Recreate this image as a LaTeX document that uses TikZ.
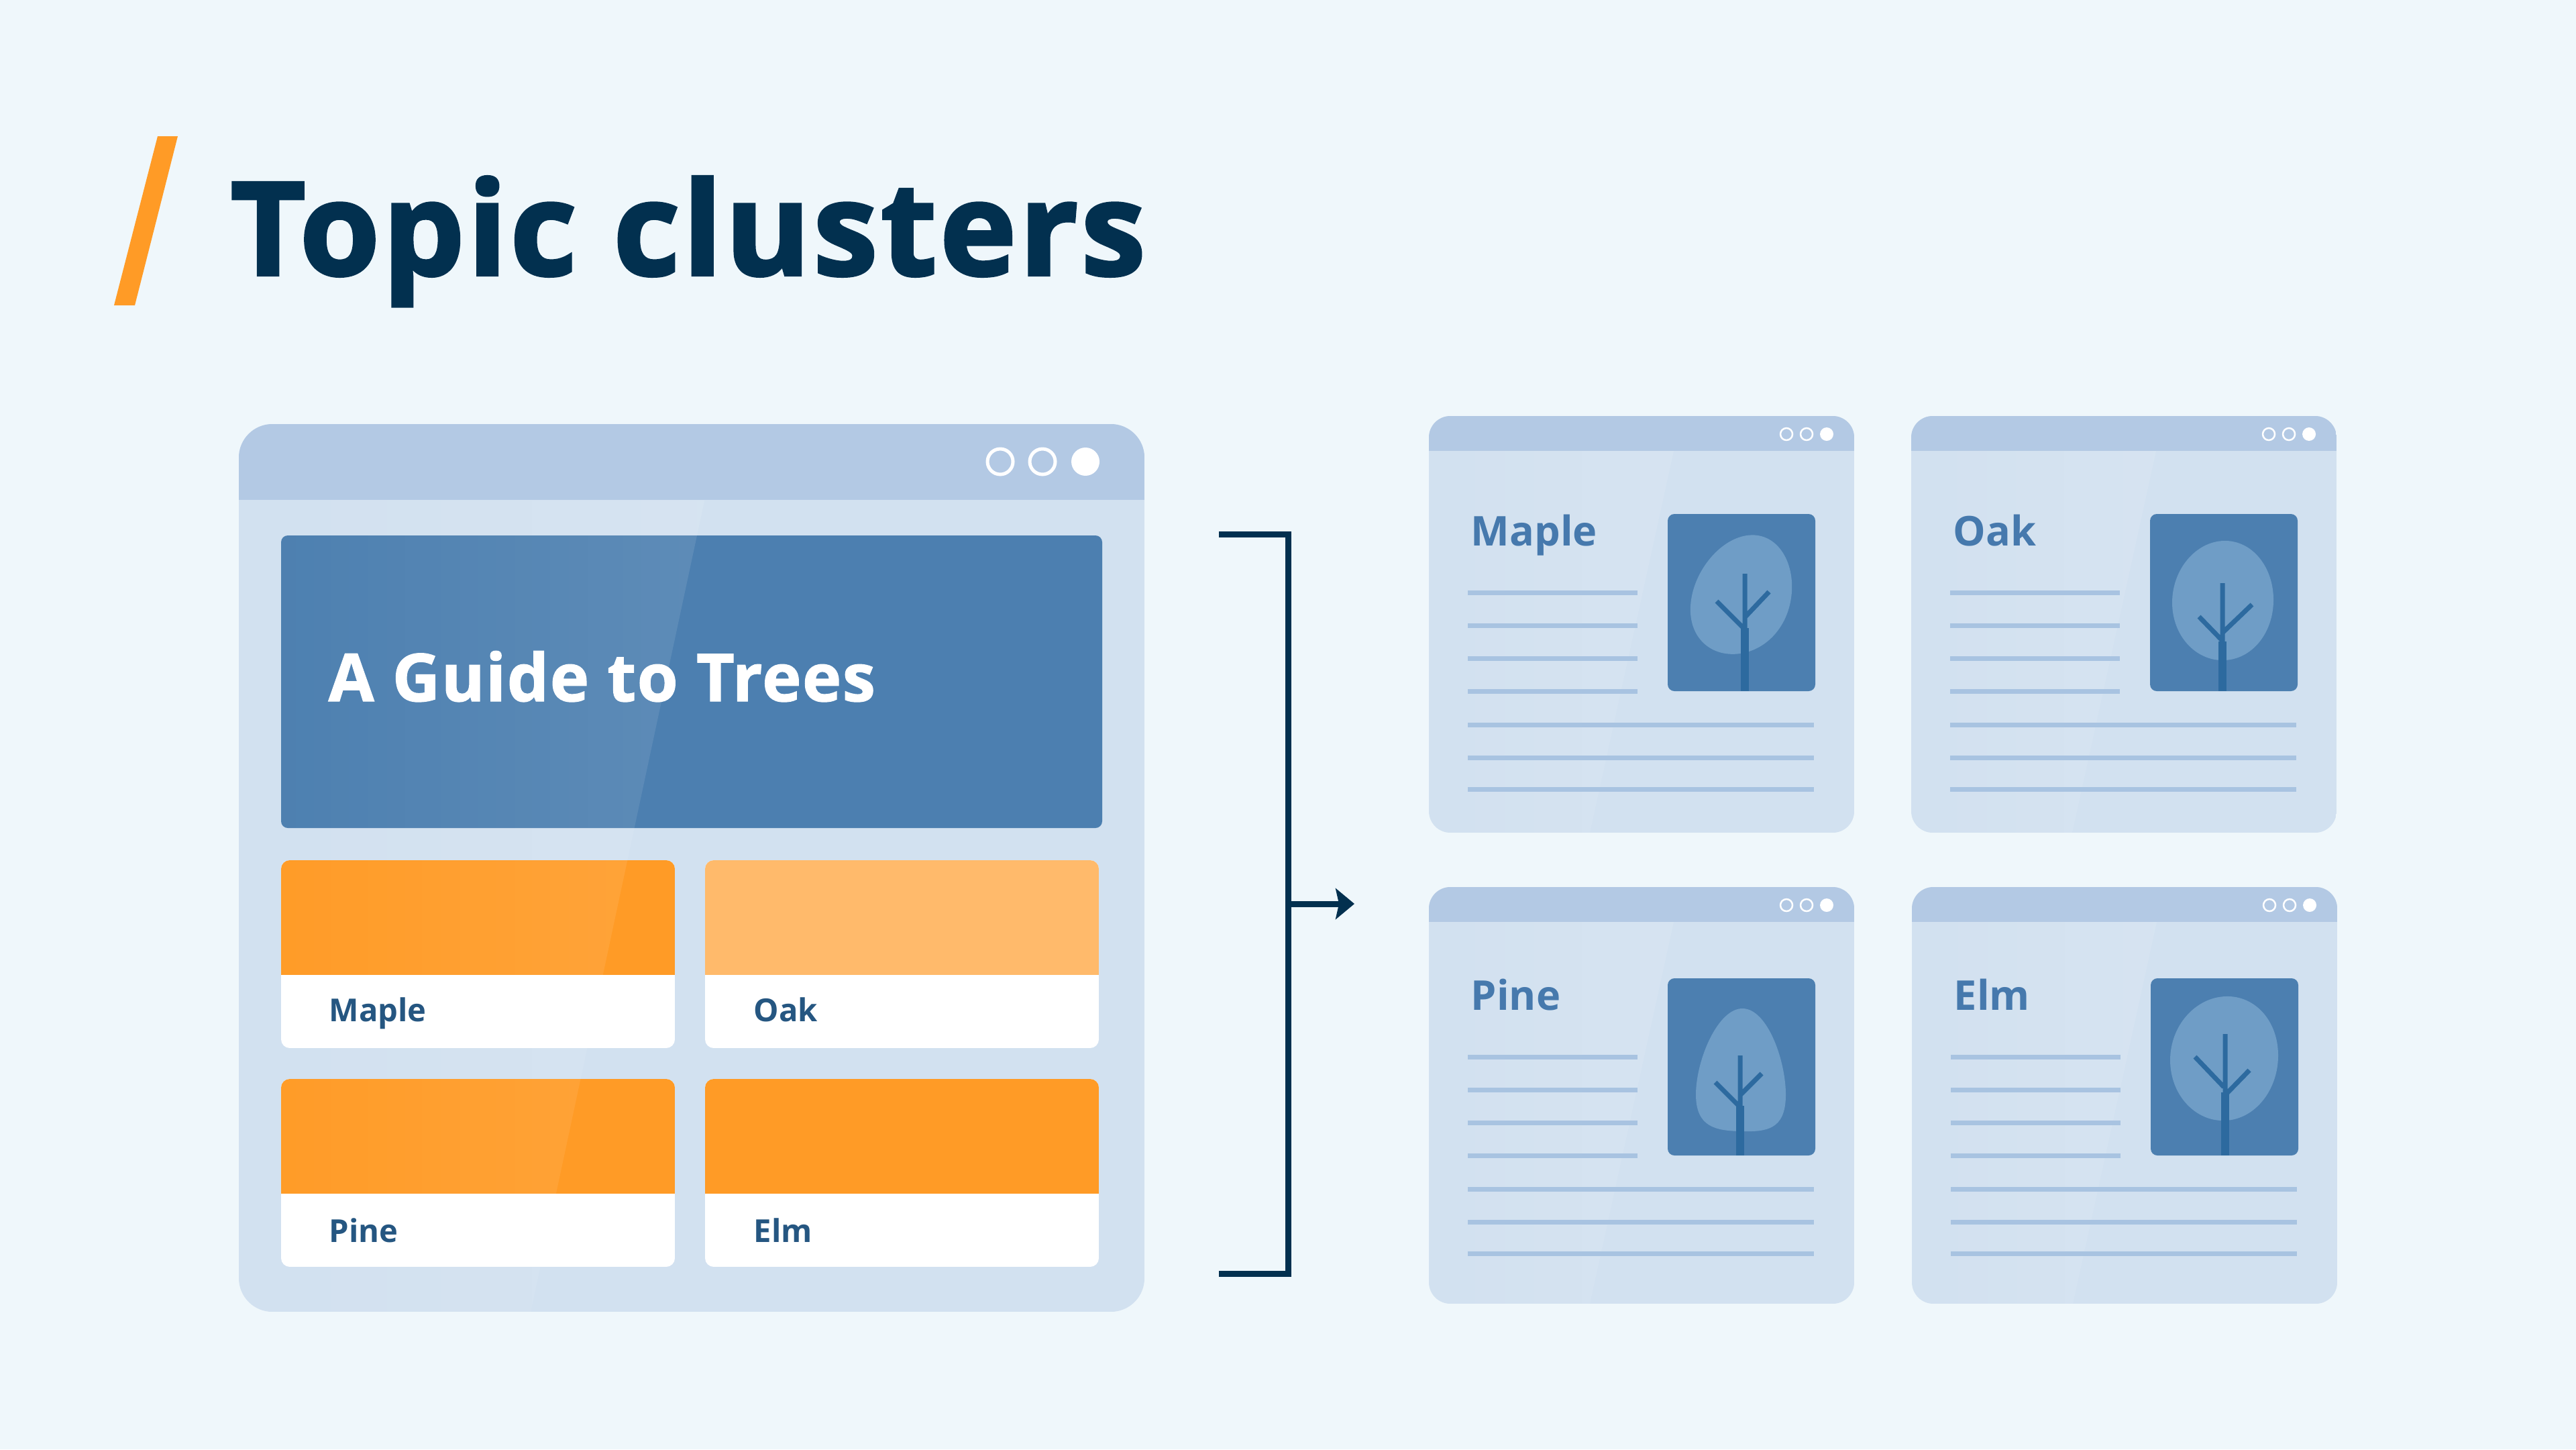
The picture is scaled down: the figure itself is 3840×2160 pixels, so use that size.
\documentclass[tikz,border=0pt]{standalone}
\usepackage{fontspec}
\setmainfont{Open Sans}
\newfontfamily\heavyfont[BoldFeatures={FakeBold=2.2,LetterSpace=2.2}]{Open Sans}
\newfontfamily\guidefont[BoldFeatures={FakeBold=1.4,LetterSpace=1.7}]{Open Sans}
\usetikzlibrary{arrows.meta, fadings}

\definecolor{paper}{HTML}{EFF7FB}
\definecolor{bodyblue}{HTML}{D2E1F0}
\definecolor{barblue}{HTML}{B3C9E4}
\definecolor{heroblue}{HTML}{4C7FB0}
\definecolor{leafblue}{HTML}{6F9DC6}
\definecolor{trunkblue}{HTML}{2D6A9F}
\definecolor{lineblue}{HTML}{A8C3E1}
\definecolor{titleblue}{HTML}{4679AD}
\definecolor{labelblue}{HTML}{255681}
\definecolor{inkblue}{HTML}{02304F}
\definecolor{accent}{HTML}{FF9B26}
\definecolor{accentlight}{HTML}{FFBA6B}

\tikzfading[name=glossfade, left color=transparent!100, right color=transparent!0]

\tikzset{
    gloss/.style={white, fill opacity=.1, path fading=glossfade},
    textline/.style={lineblue, line width=.07cm},
    branch/.style={trunkblue, line width=.07cm},
    trunk/.style={trunkblue, line width=.12cm},
    bracket/.style={inkblue, line width=.09cm},
    cardlabel/.style={labelblue, font=\fontsize{13.4}{16}\selectfont\bfseries, anchor=base west, inner sep=0pt},
    pagetitle/.style={titleblue, font=\fontsize{17.4}{20}\selectfont\bfseries, anchor=base west, inner sep=0pt}
}

\begin{document}
\begin{tikzpicture}[x=0.01cm, y=-0.01cm]
    \useasboundingbox (0,0) rectangle (3840,2160);
    \fill[paper] (0,0) rectangle (3840,2160);

    % Define the topic card of the overview page
    \def\topiccard(#1,#2)#3{
        \begin{scope}[shift={(#1,#2)}]
            \clip[rounded corners=.13cm] (0,0) rectangle (587,280);
            \fill[white] (0,0) rectangle (587,280);
            \fill[#3] (0,0) rectangle (587,171);
        \end{scope}
    }

    % Define a topic page: position, content offset, title, canopy, branches, trunk
    \def\pagecard(#1,#2,#3)#4#5#6#7{
        \begin{scope}[shift={(#1,#2)}]
            \begin{scope}
                \clip[rounded corners=.32cm] (0,0) rectangle (634,621);
                \fill[bodyblue] (0,0) rectangle (634,621);
                \fill[barblue] (0,0) rectangle (634,52);
                \fill[gloss] (-10,52) -- (365,52) -- (240,621) -- (-10,621) -- cycle;
            \end{scope}
            \draw[white, line width=.025cm] (533,27) circle (9);
            \draw[white, line width=.025cm] (563,27) circle (9);
            \fill[white] (593,27) circle (10);
            \begin{scope}[shift={(0,#3)}]
                \node[pagetitle] (title#4) at (62,47) {#4};
                \foreach \ly in {117,166,215,264}
                    \draw[textline] (58,\ly) -- (311,\ly);
                \foreach \ly in {314,363,410}
                    \draw[textline] (58,\ly) -- (574,\ly);
                \begin{scope}[shift={(356,0)}]
                    \fill[heroblue, rounded corners=.1cm] (0,0) rectangle (220,264);
                    \fill[leafblue] plot[smooth cycle, tension=1] coordinates {#5};
                    \draw[branch] #6;
                    \draw[trunk] #7;
                \end{scope}
            \end{scope}
        \end{scope}
    }

    % Draw the heading
    \fill[accent] (235,203) -- (265,203) -- (201,455) -- (170,455) -- cycle;
    \node[inkblue, font=\fontsize{55}{60}\heavyfont\bfseries, anchor=base west, inner sep=0pt] (heading) at (343,410) {Topic clusters};

    % Draw the overview page
    \begin{scope}
        \clip[rounded corners=.5cm] (356,632) rectangle (1706,1955);
        \fill[bodyblue] (356,632) rectangle (1706,1955);
        \fill[barblue] (356,632) rectangle (1706,745);
    \end{scope}
    \draw[white, line width=.05cm] (1491,688) circle (19);
    \draw[white, line width=.05cm] (1554,688) circle (19);
    \fill[white] (1618,688) circle (21);

    \fill[heroblue, rounded corners=.1cm] (419,798) rectangle (1643,1234);

    \topiccard(419,1282){accent}
    \topiccard(1051,1282){accentlight}
    \topiccard(419,1608){accent}
    \topiccard(1051,1608){accent}

    \begin{scope}
        \clip[rounded corners=.5cm] (356,632) rectangle (1706,1955);
        \fill[gloss] (346,745) -- (1050,745) -- (791,1955) -- (346,1955) -- cycle;
    \end{scope}

    \node[white, font=\fontsize{28}{32}\guidefont\bfseries, anchor=base west, inner sep=0pt] (guide) at (489,1045) {A Guide to Trees};
    \node[cardlabel] (labelMaple) at (490,1522) {Maple};
    \node[cardlabel] (labelOak) at (1123,1522) {Oak};
    \node[cardlabel] (labelPine) at (490,1851) {Pine};
    \node[cardlabel] (labelElm) at (1123,1851) {Elm};

    % Draw the bracket and its arrow
    \coordinate (bracketstart) at (1817,796);
    \coordinate (bracketupper) at (1920,796);
    \coordinate (bracketlower) at (1920,1898);
    \coordinate (bracketend) at (1817,1898);
    \coordinate (arrowstart) at (1920,1347);
    \coordinate (arrowend) at (2019,1347);
    \draw[bracket] (bracketstart) -- (bracketupper) -- (bracketlower) -- (bracketend);
    \draw[bracket, -{Stealth[length=.28cm, width=.46cm, inset=.05cm]}] (arrowstart) -- (arrowend);

    % Draw the topic pages
    \pagecard(2130,620,146){Maple}
        {(118,32) (185,115) (108,208) (34,137)}
        {(115,89) -- (115,170) (73,130) -- (112,169) (151,116) -- (115,154)}
        {(115,170) -- (115,264)}
    \pagecard(2849,620,146){Oak}
        {(110,40) (184,128) (110,218) (33,132)}
        {(108,103) -- (108,190) (73,153) -- (107,188) (152,135) -- (108,177)}
        {(108,190) -- (108,264)}
    \pagecard(2130,1322,136){Pine}
        {(112,45) (176,175) (110,228) (42,172)}
        {(108,115) -- (108,190) (71,155) -- (106,190) (140,142) -- (109,173)}
        {(108,190) -- (108,264)}
    \pagecard(2850,1322,136){Elm}
        {(111,27) (190,115) (111,212) (29,122)}
        {(111,83) -- (111,170) (66,117) -- (109,162) (147,137) -- (112,173)}
        {(111,170) -- (111,264)}
\end{tikzpicture}
\end{document}
